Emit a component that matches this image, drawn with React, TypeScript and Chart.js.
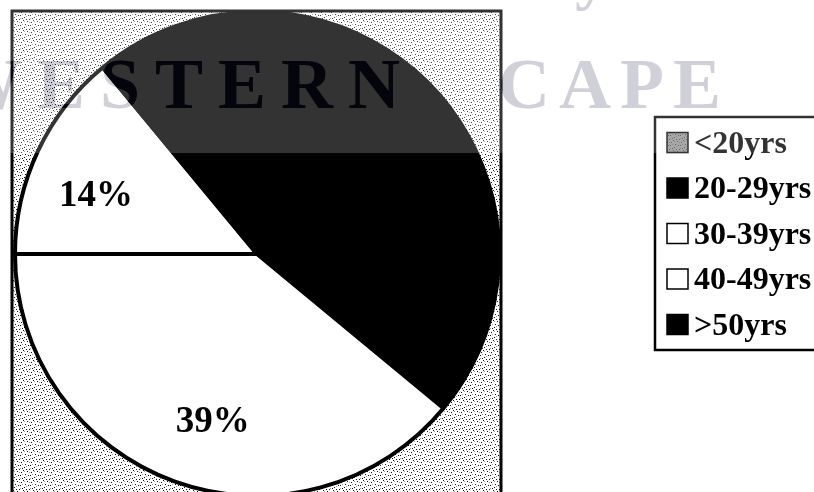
import React, { useEffect, useRef } from "react";
import { Chart, registerables } from "chart.js";

Chart.register(...registerables);

// ---- data ----
const categories = ["<20yrs", "20-29yrs", "30-39yrs", "40-49yrs", ">50yrs"];
const shares = [0, 36, 39, 14, 11];
const sliceColors = ["#5a5a5a", "#000000", "#ffffff", "#ffffff", "#000000"];
const watermarkWords = ["WESTERN", "CAPE"];
const watermarkTopLine = "University of the";

// decorative scan speckle tile (fixed)
const SPECKS: number[][] = [
  [1, 2], [4, 7], [7, 1], [8, 5], [2, 8], [5, 4], [0, 5], [9, 9], [6, 9], [3, 0],
];
const GREY_SPECKS: number[][] = [[2, 4], [6, 6], [9, 2], [4, 1], [0, 8]];

export default function App() {
  const ref = useRef<HTMLCanvasElement>(null);

  useEffect(() => {
    const canvas = ref.current!;

    const tile = document.createElement("canvas");
    tile.width = 10;
    tile.height = 10;
    const tctx = tile.getContext("2d")!;
    tctx.fillStyle = "#ffffff";
    tctx.fillRect(0, 0, 10, 10);
    tctx.fillStyle = "#111111";
    SPECKS.forEach(([x, y]) => tctx.fillRect(x, y, 1, 1));
    tctx.fillStyle = "#9a9a9a";
    GREY_SPECKS.forEach(([x, y]) => tctx.fillRect(x, y, 1, 1));

    const serif = "'Liberation Serif', 'Times New Roman', serif";

    const decor = {
      id: "decor",
      beforeDraw(chart: any) {
        const ctx = chart.ctx as CanvasRenderingContext2D;
        ctx.save();
        ctx.fillStyle = "#ffffff";
        ctx.fillRect(0, 0, chart.width, chart.height);
        const pat = ctx.createPattern(tile, "repeat")!;
        ctx.fillStyle = pat;
        ctx.fillRect(12, 11, 489, 495);
        ctx.restore();
      },
      afterDatasetsDraw(chart: any) {
        const ctx = chart.ctx as CanvasRenderingContext2D;
        const meta = chart.getDatasetMeta(0);
        const total = shares.reduce((a, b) => a + b, 0);
        ctx.save();
        ctx.font = `bold 37px ${serif}`;
        ctx.fillStyle = "#000000";
        ctx.textAlign = "center";
        ctx.textBaseline = "middle";
        meta.data.forEach((arc: any, i: number) => {
          const v = shares[i];
          if (!v) return;
          const p = arc.getProps(["x", "y", "startAngle", "endAngle", "outerRadius"], true);
          const mid = (p.startAngle + p.endAngle) / 2 - 0.085;
          const r = p.outerRadius * 0.71;
          const pct = Math.round((v / total) * 100);
          ctx.fillText(`${pct}%`, p.x + Math.cos(mid) * r, p.y + Math.sin(mid) * r + 2);
        });
        ctx.restore();
      },
      afterDraw(chart: any) {
        const ctx = chart.ctx as CanvasRenderingContext2D;
        ctx.save();
        // plot frame
        ctx.strokeStyle = "#000000";
        ctx.lineWidth = 3;
        ctx.strokeRect(12, 11, 489, 495);

        // legend box
        const bx = 655, by = 117, bw = 175, bh = 233;
        ctx.fillStyle = "#ffffff";
        ctx.fillRect(bx, by, bw, bh);
        ctx.lineWidth = 2.5;
        ctx.strokeRect(bx, by, bw, bh);
        const step = 45.5;
        ctx.font = `bold 32px ${serif}`;
        ctx.textAlign = "left";
        ctx.textBaseline = "middle";
        categories.forEach((c, i) => {
          const cy = by + bh / 2 + (i - 2) * step;
          const sx = 667, sw = 21, sh = 20;
          if (i === 0) {
            ctx.fillStyle = "#5a5a5a";
            ctx.fillRect(sx, cy - sh / 2, sw, sh);
            ctx.fillStyle = ctx.createPattern(tile, "repeat")!;
            ctx.globalAlpha = 0.35;
            ctx.fillRect(sx, cy - sh / 2, sw, sh);
            ctx.globalAlpha = 1;
          } else {
            ctx.fillStyle = sliceColors[i];
            ctx.fillRect(sx, cy - sh / 2, sw, sh);
          }
          ctx.lineWidth = 1.5;
          ctx.strokeStyle = "#000000";
          ctx.strokeRect(sx, cy - sh / 2, sw, sh);
          ctx.fillStyle = "#000000";
          ctx.fillText(c, 694, cy + 2);
        });

        // watermark band (scan artefact)
        const bandH = 153;
        const off = document.createElement("canvas");
        off.width = chart.width;
        off.height = bandH;
        const o = off.getContext("2d")!;
        o.fillStyle = "#ffffff";
        o.fillRect(0, 0, off.width, bandH);
        o.globalCompositeOperation = "destination-out";
        const drawWords = (g: CanvasRenderingContext2D) => {
          g.font = `bold 72px ${serif}`;
          g.textBaseline = "alphabetic";
          g.textAlign = "left";
          (g as any).letterSpacing = "15px";
          g.fillText(watermarkWords[0], -50, 108);
          (g as any).letterSpacing = "9px";
          g.fillText(watermarkWords[1], 498, 108);
          (g as any).letterSpacing = "0px";
          g.font = `bold 66px ${serif}`;
          g.textAlign = "right";
          g.fillText(watermarkTopLine.split(" ")[0], 608, -3);
          g.textAlign = "left";
          g.fillText(" " + watermarkTopLine.split(" ").slice(1).join(" "), 608, -3);
        };
        o.fillStyle = "#000";
        drawWords(o);
        ctx.globalAlpha = 0.2;
        ctx.drawImage(off, 0, 0);
        ctx.globalAlpha = 1;
        ctx.fillStyle = "rgba(20,20,60,0.2)";
        drawWords(ctx);
        ctx.restore();
      },
    };

    const chart = new Chart(canvas, {
      type: "pie",
      data: {
        labels: categories,
        datasets: [
          {
            data: shares,
            backgroundColor: sliceColors,
            borderColor: "#000000",
            borderWidth: 4,
          },
        ],
      },
      options: {
        responsive: false,
        animation: false,
        events: [],
        layout: { padding: { left: 13, top: 9, right: 313, bottom: 1 } },
        plugins: { legend: { display: false }, tooltip: { enabled: false } },
      },
      plugins: [decor],
    });
    return () => chart.destroy();
  }, []);

  return (
    <div
      style={{
        position: "absolute",
        left: 0,
        top: 0,
        width: 814,
        height: 492,
        overflow: "hidden",
        background: "#ffffff",
      }}
    >
      <canvas ref={ref} width={814} height={500} style={{ display: "block" }} />
    </div>
  );
}
